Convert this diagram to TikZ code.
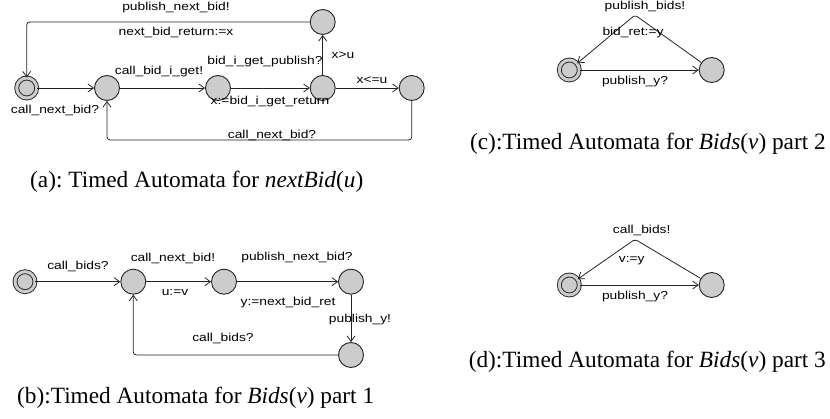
\documentclass[tikz,border=0pt]{standalone}
\usepackage{fontspec}
\setmainfont{Liberation Serif}
\newfontfamily\lblfont[FakeStretch=1.2]{Liberation Sans}
\usetikzlibrary{arrows.meta}
\definecolor{stfill}{RGB}{204,204,204}
\definecolor{ln}{RGB}{35,35,35}
\frenchspacing
\tikzset{
  state/.style={circle, draw=ln, line width=0.9pt, fill=stfill, minimum size=25pt, inner sep=0pt},
  initstate/.style={state, double=stfill, double distance=3pt, minimum size=20pt},
  arr/.style={draw=ln, line width=0.8pt, -{Straight Barb[length=5.5pt,width=8pt]}},
  lbl/.style={font=\lblfont\fontsize{11.5}{13}\selectfont, inner sep=0pt, text=black},
  captext/.style={font=\fontsize{23.3}{26}\selectfont, inner sep=0pt, anchor=west},
  captextr/.style={captext, anchor=east}
}
\begin{document}
\begin{tikzpicture}[x=1pt,y=-1pt]
\useasboundingbox (0,0) rectangle (830,419);
% ---------- (a)
\node[initstate] (a0) at (26.7,88) {};
\node[state] (a1) at (107,88) {};
\node[state] (a2) at (218,88) {};
\node[state] (a3) at (322.7,88) {};
\node[state] (a4) at (411.7,88) {};
\node[state] (a5) at (322.7,22) {};
\draw[arr] (a0) -- (a1);
\draw[arr] (a1) -- (a2);
\draw[arr] (a2) -- (a3);
\draw[arr] (a3) -- (a5);
\draw[arr] (a3) -- (a4);
\draw[arr, rounded corners=3pt] (a4.south) -- (a4.south |- 0,140) -- (a1.south |- 0,140) -- (a1.south);
\draw[arr, rounded corners=3pt] (a5.west) -- (a0.north |- a5.west) -- (a0.north);
\node[lbl] (la1) at (55,110) {call\_next\_bid?};
\node[lbl] (la2) at (159,72) {call\_bid\_i\_get!};
\node[lbl] (la3) at (265,62) {bid\_i\_get\_publish?};
\node[lbl] (la4) at (270,102) {x:=bid\_i\_get\_return};
\node[lbl] (la5) at (343,55) {x>u};
\node[lbl] (la6) at (372,80) {x<=u};
\node[lbl] (la7) at (272,135) {call\_next\_bid?};
\node[lbl] (la8) at (176,7.5) {publish\_next\_bid!};
\node[lbl] (la9) at (176,32) {next\_bid\_return:=x};
\node[captext] (capa) at (30,182) {(a): Timed Automata for \textit{nextBid}(\textit{u})};
% ---------- (b)
\node[initstate] (b0) at (25,281.7) {};
\node[state] (b1) at (133.3,281.7) {};
\node[state] (b2) at (224,281.7) {};
\node[state] (b3) at (351,281.7) {};
\node[state] (b4) at (351,355) {};
\draw[arr] (b0) -- (b1);
\draw[arr] (b1) -- (b2);
\draw[arr] (b2) -- (b3);
\draw[arr] (b3) -- (b4);
\draw[arr, rounded corners=3pt] (b4.west) -- (b1.south |- b4.west) -- (b1.south);
\node[lbl] (lb1) at (78,266) {call\_bids?};
\node[lbl] (lb2) at (173,258) {call\_next\_bid!};
\node[lbl] (lb3) at (175,293) {u:=v};
\node[lbl] (lb4) at (297,258) {publish\_next\_bid?};
\node[lbl] (lb5) at (288,303) {y:=next\_bid\_ret};
\node[lbl] (lb6) at (360,320) {publish\_y!};
\node[lbl] (lb7) at (223,338) {call\_bids?};
\node[captext] (capb) at (17,398) {(b):Timed Automata for \textit{Bids}(\textit{v}) part 1};
% ---------- (c)
\node[initstate] (c0) at (569.3,70) {};
\node[state] (c1) at (711.7,70) {};
\coordinate (cn) at (635,15);
\draw[arr] (c0) -- (c1);
\draw[arr, rounded corners=2pt] (c1) -- (cn) -- (c0);
\node[lbl] (lc1) at (635,82) {publish\_y?};
\node[lbl] (lc2) at (645,6.5) {publish\_bids!};
\node[lbl] (lc3) at (633,33) {bid\_ret:=y};
\node[captextr] (capc) at (826,144) {(c):Timed Automata for \textit{Bids}(\textit{v}) part 2};
% ---------- (d)
\node[initstate] (d0) at (569.3,285) {};
\node[state] (d1) at (711.7,285) {};
\coordinate (dn) at (635,239.3);
\draw[arr] (d0) -- (d1);
\draw[arr, rounded corners=2pt] (d1) -- (dn) -- (d0);
\node[lbl] (ld1) at (635,297) {publish\_y?};
\node[lbl] (ld2) at (641.7,230) {call\_bids!};
\node[lbl] (ld3) at (631.7,261) {v:=y};
\node[captextr] (capd) at (826,362) {(d):Timed Automata for \textit{Bids}(\textit{v}) part 3};
\end{tikzpicture}
\end{document}
